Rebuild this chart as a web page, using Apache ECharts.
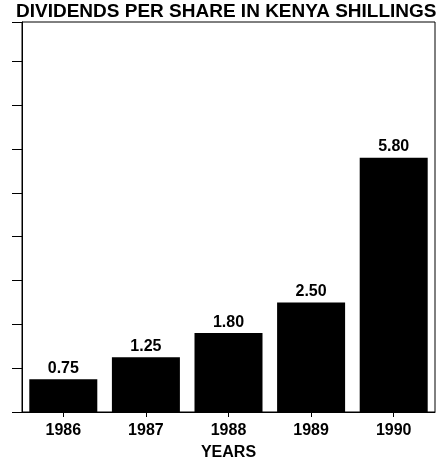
<!DOCTYPE html>
<html>
<head>
<meta charset="utf-8">
<script src="https://cdn.jsdelivr.net/npm/echarts@6/dist/echarts.min.js"></script>
<style>
html,body{margin:0;padding:0;background:#fff;}
#chart{width:441px;height:460px;}
</style>
</head>
<body>
<div id="chart"></div>
<script>
const years = ['1986', '1987', '1988', '1989', '1990'];
const dividends = [0.75, 1.25, 1.80, 2.50, 5.80];
const valueLabels = ['0.75', '1.25', '1.80', '2.50', '5.80'];
const titleText = 'DIVIDENDS PER SHARE IN KENYA SHILLINGS';
const xAxisTitle = 'YEARS';

const chart = echarts.init(document.getElementById('chart'), null, {renderer: 'canvas'});
const font = '"Liberation Sans", Arial, Helvetica, sans-serif';
chart.setOption({
  animation: false,
  backgroundColor: '#fff',
  title: {
    text: titleText,
    left: 11,
    top: -3,
    textStyle: {fontFamily: font, fontWeight: 'bold', fontSize: 19, color: '#000'}
  },
  grid: {
    left: 22, right: 6, top: 22, bottom: 48,
    outerBoundsMode: 'none',
    containLabel: false,
    show: true, borderColor: '#000', borderWidth: 1, backgroundColor: 'transparent'
  },
  xAxis: {
    type: 'category',
    data: years,
    name: xAxisTitle,
    nameLocation: 'middle',
    nameGap: 33,
    nameTextStyle: {fontFamily: font, fontWeight: 'bold', fontSize: 16, color: '#000'},
    axisLine: {show: true, lineStyle: {color: '#000', width: 1}},
    axisTick: {show: true, alignWithLabel: true, length: 5, lineStyle: {color: '#000'}},
    axisLabel: {margin: 11, fontFamily: font, fontWeight: 'bold', fontSize: 16, color: '#000'},
    splitLine: {show: false}
  },
  yAxis: {
    type: 'value',
    min: 0,
    max: 8.9,
    interval: 1,
    axisLine: {show: true, lineStyle: {color: '#000', width: 1}},
    axisTick: {show: true, length: 10, lineStyle: {color: '#000'}},
    axisLabel: {show: false},
    splitLine: {show: false}
  },
  series: [{
    type: 'bar',
    data: dividends,
    barWidth: 68,
    itemStyle: {color: '#000'},
    label: {
      show: true,
      position: 'top',
      distance: 3,
      formatter: p => valueLabels[p.dataIndex],
      fontFamily: font, fontWeight: 'bold', fontSize: 16, color: '#000'
    }
  }]
});
</script>
</body>
</html>
